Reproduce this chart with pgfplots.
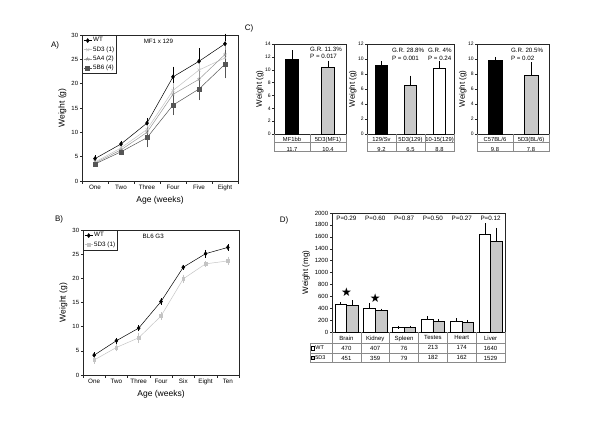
\documentclass[border=0pt]{standalone}
\usepackage{fontspec}
\setmainfont{Liberation Sans}
\newfontfamily\dejavu{DejaVu Sans}
\usepackage{pgfplots}
\pgfplotsset{compat=1.18}
\usepackage{pgfplotstable}
\usetikzlibrary{calc}
\definecolor{lgray}{HTML}{C4C4C4}
\definecolor{mgray}{HTML}{979797}
\definecolor{dgray}{HTML}{555555}
\definecolor{barg}{HTML}{C8C8C8}
\definecolor{tline}{HTML}{8A8A8A}

\pgfplotstableread{
x wt wte d3 d3e a4 a4e b6 b6e
0 4.6 0.4 3.9 0.3 3.7 0.3 3.5 0.3
1 7.6 0.4 6.8 0.3 6.4 0.3 6.0 0.4
2 11.9 0.8 10.6 0.7 10.0 0.8 8.9 1.7
3 21.4 1.8 18.6 1.3 17.8 1.2 15.6 1.8
4 24.6 2.4 22.8 1.5 20.9 1.8 18.9 2.0
5 28.2 1.8 25.3 1.5 26.0 2.5 24.0 2.6
}\dataA
\pgfplotstableread{
x wt wte d3 d3e
0 4.1 0.3 3.1 0.5
1 7.1 0.3 5.7 0.5
2 9.7 0.4 7.7 0.8
3 15.2 0.4 12.2 0.5
4 22.3 0.2 19.9 0.6
5 25.1 0.5 23.0 0.3
6 26.4 0.4 23.6 0.6
}\dataB
\pgfplotstableread{
x wt wte d3 d3e
0 470 10 451 56
1 407 60 359 10
2 76 5 79 5
3 213 30 182 15
4 174 35 162 20
5 1640 163 1529 198
}\dataD

\tikzset{
  tl/.style={tline, line width=0.5pt},
  ann/.style={anchor=west, font=\fontsize{6.2}{7}\selectfont, inner sep=0pt},
  pl/.style={font=\fontsize{6.3}{7}\selectfont},
}
\pgfplotsset{
  base/.style={scale only axis, anchor=south west, clip=false,
    axis line style={black!85, line width=0.5pt},
    tick style={black!85, line width=0.4pt}, tick align=outside,
    major tick length=2.2pt, minor tick length=2.5pt,
    xtick pos=left, ytick pos=left,
    /pgf/number format/assume math mode=true,
    /pgf/number format/1000 sep={},
    error bars/error bar style={line width=0.45pt},
    error bars/error mark options={mark size=1.4pt, line width=0.45pt},
  },
  linep/.style={base,
    ymin=0, ymax=30, ytick={0,5,...,30},
    major x tick style={draw=none},
    yticklabel style={font=\fontsize{6}{7}\selectfont, inner sep=1.5pt},
    xticklabel style={font=\fontsize{6.3}{7}\selectfont, inner sep=2pt},
    xlabel={Age (weeks)}, ylabel={Weight (g)},
    label style={font=\fontsize{8.5}{10}\selectfont},
    legend cell align=left,
    legend style={at={(0,1)}, anchor=north west, draw=black!85, line width=0.5pt,
      font=\fontsize{6.3}{7}\selectfont, inner sep=1.2pt, row sep=0.8pt,
      nodes={inner sep=1.2pt}},
    legend image code/.code={\draw[mark repeat=2, mark phase=2] plot coordinates {(0pt,0pt) (4pt,0pt) (8pt,0pt)};},
  },
  cpan/.style={base,
    ymin=0, major x tick style={draw=none},
    yticklabel style={font=\fontsize{5}{6}\selectfont, inner sep=1pt},
    xticklabel style={font=\fontsize{5.8}{9.4}\selectfont, align=center, inner sep=1.3pt},
    ylabel={Weight (g)},
    ylabel style={font=\fontsize{8}{9}\selectfont, yshift=-3pt},
  },
  cbar/.style={ybar, bar width=13pt, bar shift=0pt, draw=black, line width=0.5pt,
    error bars/y dir=plus, error bars/y explicit},
}

\begin{document}
\begin{tikzpicture}
\useasboundingbox (0pt,0pt) rectangle (600pt,424pt);

% ---------------- Panel A ----------------
\node[font=\fontsize{8}{9}\selectfont] at (55pt,379pt) {A)};
\begin{axis}[linep, at={(82pt,243pt)}, width=156pt, height=146pt,
  xmin=-0.5, xmax=5.5, xtick={0,...,5},
  xticklabels={One,Two,Three,Four,Five,Eight},
  minor xtick={-0.5,0.5,...,5.5}]
\addplot[black, line width=0.5pt, mark=diamond*, mark size=2pt,
  error bars/.cd, y dir=both, y explicit] table[x=x, y=wt, y error=wte] {\dataA};
\addlegendentry{WT}
\addplot[lgray, line width=0.5pt, mark=x, mark size=2pt,
  error bars/.cd, y dir=both, y explicit] table[x=x, y=d3, y error=d3e] {\dataA};
\addlegendentry{5D3 (1)}
\addplot[mgray, line width=0.5pt, mark=star, mark size=2pt,
  error bars/.cd, y dir=both, y explicit] table[x=x, y=a4, y error=a4e] {\dataA};
\addlegendentry{5A4 (2)}
\addplot[dgray, line width=0.5pt, mark=square*, mark size=2pt,
  error bars/.cd, y dir=both, y explicit] table[x=x, y=b6, y error=b6e] {\dataA};
\addlegendentry{5B6 (4)}
\node[font=\fontsize{6.2}{7}\selectfont] at (rel axis cs:0.49,0.955) {MF1 x 129};
\end{axis}

% ---------------- Panel B ----------------
\node[font=\fontsize{8}{9}\selectfont] at (59pt,205pt) {B)};
\begin{axis}[linep, at={(83pt,49pt)}, width=156pt, height=145pt,
  xmin=-0.5, xmax=6.5, xtick={0,...,6},
  xticklabels={One,Two,Three,Four,Six,Eight,Ten},
  minor xtick={-0.5,0.5,...,6.5}]
\addplot[black, line width=0.5pt, mark=diamond*, mark size=2pt,
  error bars/.cd, y dir=both, y explicit] table[x=x, y=wt, y error=wte] {\dataB};
\addlegendentry{WT}
\addplot[lgray, line width=0.5pt, mark=square*, mark size=1.3pt,
  error bars/.cd, y dir=both, y explicit] table[x=x, y=d3, y error=d3e] {\dataB};
\addlegendentry{5D3 (1)}
\node[font=\fontsize{6.2}{7}\selectfont] at (rel axis cs:0.45,0.955) {BL6 G3};
\end{axis}

% ---------------- Panel C ----------------
\node[font=\fontsize{8}{9}\selectfont] at (249pt,396pt) {C)};
% C1
\begin{axis}[cpan, at={(274pt,290pt)}, width=72pt, height=90pt,
  xmin=-0.5, xmax=1.5, ymax=14, ytick={0,2,...,14},
  xtick={0,1}, xticklabels={{MF1bb\\11.7},{5D3(MF1)\\10.4}}]
\addplot[cbar, fill=black] coordinates {(0,11.7) +- (0,1.1)};
\addplot[cbar, fill=barg] coordinates {(1,10.4) +- (0,0.8)};
\node[ann] at (axis cs:0.5,13.2) {G.R. 11.3\%};
\node[ann] at (axis cs:0.5,12.15) {P = 0.017};
\draw[tl] (rel axis cs:0,0) -- ([yshift=-17.7pt]rel axis cs:0,0) -- ([yshift=-17.7pt]rel axis cs:1,0) -- (rel axis cs:1,0);
\draw[tl] ([yshift=-8.7pt]rel axis cs:0,0) -- ([yshift=-8.7pt]rel axis cs:1,0);
\draw[tl] (rel axis cs:0.5,0) -- ([yshift=-17.7pt]rel axis cs:0.5,0);
\end{axis}
% C2
\begin{axis}[cpan, at={(367pt,290pt)}, width=87pt, height=90pt,
  xmin=-0.5, xmax=2.5, ymax=12, ytick={0,2,...,12},
  xtick={0,1,2}, xticklabels={{129/Sv\\9.2},{5D3(129)\\6.5},{10-15(129)\\8.8}}]
\addplot[cbar, bar width=12pt, fill=black] coordinates {(0,9.2) +- (0,0.3)};
\addplot[cbar, bar width=12pt, fill=barg] coordinates {(1,6.5) +- (0,1.1)};
\addplot[cbar, bar width=12pt, fill=white] coordinates {(2,8.8) +- (0,0.7)};
\node[ann] at (axis cs:0.36,11.2) {G.R. 28.8\%};
\node[ann] at (axis cs:0.36,10.15) {P = 0.001};
\node[ann] at (axis cs:1.6,11.2) {G.R. 4\%};
\node[ann] at (axis cs:1.6,10.15) {P = 0.24};
\draw[tl] (rel axis cs:0,0) -- ([yshift=-17.7pt]rel axis cs:0,0) -- ([yshift=-17.7pt]rel axis cs:1,0) -- (rel axis cs:1,0);
\draw[tl] ([yshift=-8.7pt]rel axis cs:0,0) -- ([yshift=-8.7pt]rel axis cs:1,0);
\draw[tl] (rel axis cs:0.3333,0) -- ([yshift=-17.7pt]rel axis cs:0.3333,0);
\draw[tl] (rel axis cs:0.6667,0) -- ([yshift=-17.7pt]rel axis cs:0.6667,0);
\end{axis}
% C3
\begin{axis}[cpan, at={(477pt,290pt)}, width=72pt, height=90pt,
  xmin=-0.5, xmax=1.5, ymax=12, ytick={0,2,...,12},
  xtick={0,1}, xticklabels={{C57BL/6\\9.8},{5D3(BL/6)\\7.8}}]
\addplot[cbar, bar width=14pt, fill=black] coordinates {(0,9.8) +- (0,0.3)};
\addplot[cbar, bar width=14pt, fill=barg] coordinates {(1,7.8) +- (0,1.6)};
\node[ann] at (axis cs:0.44,11.2) {G.R. 20.5\%};
\node[ann] at (axis cs:0.44,10.15) {P = 0.02};
\draw[tl] (rel axis cs:0,0) -- ([yshift=-17.7pt]rel axis cs:0,0) -- ([yshift=-17.7pt]rel axis cs:1,0) -- (rel axis cs:1,0);
\draw[tl] ([yshift=-8.7pt]rel axis cs:0,0) -- ([yshift=-8.7pt]rel axis cs:1,0);
\draw[tl] (rel axis cs:0.5,0) -- ([yshift=-17.7pt]rel axis cs:0.5,0);
\end{axis}

% ---------------- Panel D ----------------
\node[font=\fontsize{8}{9}\selectfont] at (284pt,204pt) {D)};
\begin{axis}[base, at={(332pt,92pt)}, width=173pt, height=119pt,
  xmin=-0.5, xmax=5.5, ymin=0, ymax=2000, ytick={0,200,...,2000},
  xtick={0,...,5}, major x tick style={draw=none},
  xticklabels={{Brain\\470\\451},{Kidney\\407\\359},{Spleen\\76\\79},{Testes\\213\\182},{Heart\\174\\162},{Liver\\1640\\1529}},
  xticklabel style={font=\fontsize{6}{10}\selectfont, align=center, inner sep=1.4pt},
  yticklabel style={font=\fontsize{6}{7}\selectfont, inner sep=1.5pt},
  ylabel={Weight (mg)}, ylabel style={font=\fontsize{8}{9}\selectfont, yshift=0pt},
  ybar=0pt, bar width=11.6pt]
\addplot[draw=black, fill=white, line width=0.5pt,
  error bars/.cd, y dir=plus, y explicit] table[x=x, y=wt, y error=wte] {\dataD};
\addplot[draw=black, fill=barg, line width=0.5pt,
  error bars/.cd, y dir=plus, y explicit] table[x=x, y=d3, y error=d3e] {\dataD};
\addplot[only marks, black, mark=text, text mark={\dejavu\fontsize{12}{12}\selectfont ★}] coordinates {(0,676) (1,574)};
\node[pl] at (axis cs:0,1915) {P=0.29};
\node[pl] at (axis cs:1,1915) {P=0.60};
\node[pl] at (axis cs:2,1915) {P=0.87};
\node[pl] at (axis cs:3,1915) {P=0.50};
\node[pl] at (axis cs:4,1915) {P=0.27};
\node[pl] at (axis cs:5,1915) {P=0.12};
% table
\draw[tl] (rel axis cs:0,0) -- ([yshift=-30pt]rel axis cs:0,0) -- ([yshift=-30pt]rel axis cs:1,0) -- (rel axis cs:1,0);
\draw[tl] ([xshift=-21.7pt,yshift=-11pt]rel axis cs:0,0) -- ([yshift=-11pt]rel axis cs:1,0);
\draw[tl] ([xshift=-21.7pt,yshift=-21pt]rel axis cs:0,0) -- ([yshift=-21pt]rel axis cs:1,0);
\draw[tl] ([xshift=-21.7pt,yshift=-11pt]rel axis cs:0,0) -- ([xshift=-21.7pt,yshift=-30pt]rel axis cs:0,0) -- ([yshift=-30pt]rel axis cs:0,0);
\draw[tl] (rel axis cs:0.16667,0) -- ([yshift=-30pt]rel axis cs:0.16667,0);
\draw[tl] (rel axis cs:0.33333,0) -- ([yshift=-30pt]rel axis cs:0.33333,0);
\draw[tl] (rel axis cs:0.5,0) -- ([yshift=-30pt]rel axis cs:0.5,0);
\draw[tl] (rel axis cs:0.66667,0) -- ([yshift=-30pt]rel axis cs:0.66667,0);
\draw[tl] (rel axis cs:0.83333,0) -- ([yshift=-30pt]rel axis cs:0.83333,0);
\draw[line width=0.3pt, fill=white] ([xshift=-21pt,yshift=-17.8pt]rel axis cs:0,0) rectangle ([xshift=-17.4pt,yshift=-14.2pt]rel axis cs:0,0);
\draw[line width=0.3pt, fill=barg] ([xshift=-21pt,yshift=-27.4pt]rel axis cs:0,0) rectangle ([xshift=-17.4pt,yshift=-23.8pt]rel axis cs:0,0);
\node[anchor=west, font=\fontsize{5.5}{6}\selectfont, inner sep=0pt] at ([xshift=-16.8pt,yshift=-16pt]rel axis cs:0,0) {WT};
\node[anchor=west, font=\fontsize{5.5}{6}\selectfont, inner sep=0pt] at ([xshift=-16.8pt,yshift=-25.3pt]rel axis cs:0,0) {5D3};
\end{axis}
\end{tikzpicture}
\end{document}
